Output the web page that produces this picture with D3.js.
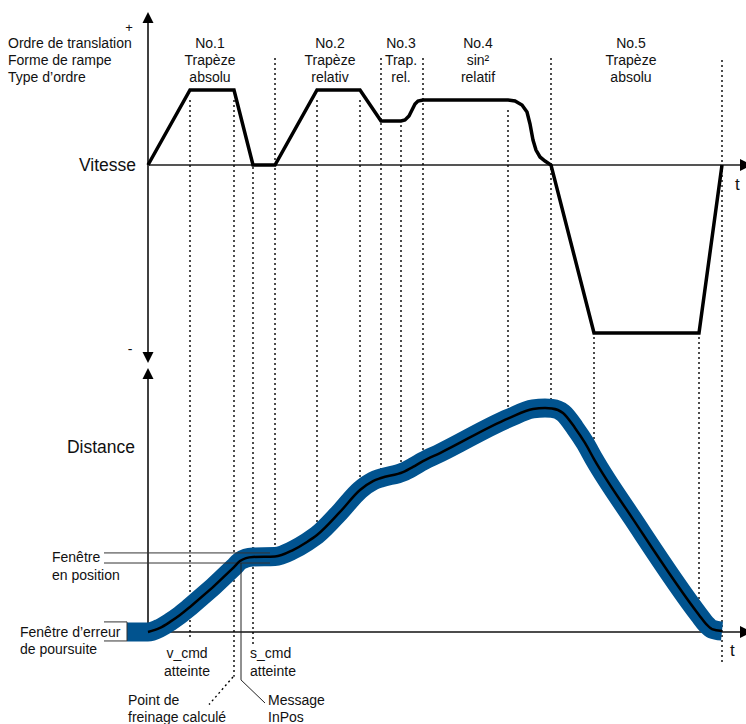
<!DOCTYPE html>
<html><head><meta charset="utf-8">
<script src="https://cdn.jsdelivr.net/npm/d3@7"></script>
<style>
body{margin:0;background:#fff}
text{font-family:"Liberation Sans",Arial,sans-serif;font-size:14px;fill:#111}
</style>
</head><body>
<svg id="chart" width="746" height="724"></svg>
<script>
// ---------- DATA ----------
const rowLabels = ["Ordre de translation", "Forme de rampe", "Type d’ordre"];
const orderNames = ["No.1", "No.2", "No.3", "No.4", "No.5"];
const rampForms = ["Trapèze", "Trapèze", "Trap.", "sin²", "Trapèze"];
const orderTypes = ["absolu", "relativ", "rel.", "relatif", "absolu"];
const orderCenterT = [12.4, 36.4, 50.6, 66, 96.6];

// velocity profile (time units, normalised velocity)
const velocityT = [0, 8.4, 17.2, 21, 25.4, 33.8, 42.4, 46.6, 50.6, 51.4, 52.2, 52.8, 53.4, 54.0, 55,
  72, 73.4, 74.8, 75.8, 76.4, 77.0, 77.6, 78.4, 79.4, 80.6, 89.2, 110.2, 114.8];
const velocityV = [0, 1, 1, 0, 0, 1, 1, 0.587, 0.587, 0.6, 0.653, 0.733, 0.813, 0.853, 0.867,
  0.867, 0.853, 0.8, 0.707, 0.547, 0.333, 0.2, 0.107, 0.053, 0, -2.24, -2.24, 0];

// distance profile (time units, normalised distance)
const distanceT = [0, 2.4, 4.4, 6.4, 8.4, 17.2, 18.4, 19.6, 21, 25.4, 29, 31.8, 33.8, 38.4, 42.4,
  45, 46.6, 51, 53, 55, 58.4, 72.2, 77, 79.4, 80.8, 83, 85.4, 87.4, 89.2, 97, 110.2, 111.6, 112.8, 114.8];
const distanceS = [0, 0.018, 0.045, 0.076, 0.112, 0.29, 0.317, 0.33, 0.335, 0.337, 0.366, 0.402, 0.433,
  0.536, 0.634, 0.674, 0.6875, 0.714, 0.737, 0.763, 0.799, 0.955, 0.996, 1.0, 0.998, 0.978, 0.911,
  0.844, 0.772, 0.504, 0.076, 0.036, 0.013, 0.004];

// event (dotted) lines: time, top (velocity units), bottom (distance units)
const eventT      = [8.4, 17.2, 21, 25.4, 33.8, 42.4, 46.6, 50.6, 55, 72, 80.6, 89.2, 110.2, 114.8];
const eventTopV   = [0.867, 0.867, -0.027, 1.427, 0.867, 0.867, 1.427, 0.533, 1.427, 0.733, 1.427, -2.293, -2.293, 1.4];
const eventBottomS= [-0.027, -0.2, -0.058, 0.379, 0.455, 0.652, 0.692, 0.719, 0.781, 0.978, 1.027, 0.808, 0.089, -0.147];

const followErrorWindow = [-0.040, 0.045];   // distance units
const inPosWindow = [0.308, 0.353];          // distance units
const windowLabelT = -8.8, windowStartT = -4.2, inPosEndT = 24.4;

// ---------- SCALES ----------
const x = d3.scaleLinear().domain([0, 120]).range([148, 748]);
const yV = d3.scaleLinear().domain([-1, 1]).range([240, 90]);
const yS = d3.scaleLinear().domain([0, 1]).range([632, 408]);
const vTop = 2.04, vBottom = -2.64, sTop = 1.179, tEnd = 119;

const svg = d3.select("#chart");
svg.append("rect").attr("width", 746).attr("height", 724).attr("fill", "#fff");

// ---------- AXES ----------
const gA = svg.append("g");
gA.append("line").attr("x1", x(0)).attr("x2", x(0)).attr("y1", yV(vTop) + 6).attr("y2", yV(vBottom) - 6)
  .attr("stroke", "#000").attr("stroke-width", 1.5);
gA.append("line").attr("x1", x(0)).attr("x2", x(0)).attr("y1", yS(sTop) + 6).attr("y2", yS(0))
  .attr("stroke", "#000").attr("stroke-width", 1.5);
gA.append("line").attr("x1", x(0)).attr("x2", x(tEnd)).attr("y1", yV(0)).attr("y2", yV(0))
  .attr("stroke", "#555").attr("stroke-width", 2);
gA.append("line").attr("x1", x(0)).attr("x2", x(tEnd)).attr("y1", yS(0)).attr("y2", yS(0))
  .attr("stroke", "#111").attr("stroke-width", 1.5);
function tri(pts) { gA.append("path").attr("d", "M" + pts.map(p => p.join(",")).join("L") + "Z").attr("fill", "#000"); }
const ax = x(0);
tri([[ax, yV(vTop)], [ax - 5.5, yV(vTop) + 11], [ax + 5.5, yV(vTop) + 11]]);
tri([[ax, yV(vBottom)], [ax - 5.5, yV(vBottom) - 11], [ax + 5.5, yV(vBottom) - 11]]);
tri([[ax, yS(sTop)], [ax - 5.5, yS(sTop) + 11], [ax + 5.5, yS(sTop) + 11]]);
tri([[x(tEnd) + 9, yV(0)], [x(tEnd) - 3, yV(0) - 6], [x(tEnd) - 3, yV(0) + 6]]);
tri([[x(tEnd) + 9, yS(0)], [x(tEnd) - 3, yS(0) - 6], [x(tEnd) - 3, yS(0) + 6]]);

// ---------- EVENT LINES ----------
const gE = svg.append("g");
eventT.forEach((t, i) => {
  gE.append("line").attr("x1", x(t)).attr("x2", x(t))
    .attr("y1", yV(eventTopV[i])).attr("y2", yS(eventBottomS[i]))
    .attr("stroke", "#000").attr("stroke-width", 1.4).attr("stroke-dasharray", "2,3");
});

// ---------- DISTANCE ----------
const distData = distanceT.map((t, i) => ({ t, s: distanceS[i] }));
const bandData = [{ t: windowStartT, s: 0 }].concat(distData);
const lineS = d3.line().x(d => x(d.t)).y(d => yS(d.s)).curve(d3.curveMonotoneX);
svg.append("path").attr("d", lineS(bandData)).attr("fill", "none")
  .attr("stroke", "#01538f").attr("stroke-width", 19).attr("stroke-linejoin", "round").attr("stroke-linecap", "butt");

// windows
const gW = svg.append("g").attr("stroke", "#333").attr("stroke-width", 1).attr("fill", "none");
followErrorWindow.forEach(s => {
  gW.append("line").attr("x1", x(windowLabelT)).attr("x2", x(windowStartT)).attr("y1", yS(s)).attr("y2", yS(s));
});
gW.append("line").attr("x1", x(windowStartT)).attr("x2", x(windowStartT))
  .attr("y1", yS(followErrorWindow[0])).attr("y2", yS(followErrorWindow[1]));
inPosWindow.forEach(s => {
  gW.append("line").attr("x1", x(windowLabelT)).attr("x2", x(inPosEndT)).attr("y1", yS(s)).attr("y2", yS(s));
});

svg.append("path").attr("d", lineS(distData)).attr("fill", "none")
  .attr("stroke", "#000").attr("stroke-width", 2.5);

// ---------- VELOCITY ----------
const velData = velocityT.map((t, i) => ({ t, v: velocityV[i] }));
const lineV = d3.line().x(d => x(d.t)).y(d => yV(d.v));
svg.append("path").attr("d", lineV(velData)).attr("fill", "none")
  .attr("stroke", "#000").attr("stroke-width", 3.5).attr("stroke-linejoin", "miter");

// ---------- ANNOTATION LEADERS ----------
svg.append("path")
  .attr("d", `M${x(18.6)},${yS(inPosWindow[0])}L${x(18.6)},${yS(-0.214)}L${x(23.4)},${yS(-0.317)}`)
  .attr("fill", "none").attr("stroke", "#222").attr("stroke-width", 1);
svg.append("line").attr("x1", x(17.0)).attr("y1", yS(-0.201)).attr("x2", x(12.2)).attr("y2", yS(-0.324))
  .attr("stroke", "#000").attr("stroke-width", 1.4).attr("stroke-dasharray", "2,3");

// ---------- TEXT ----------
const gT = svg.append("g");
const rowY = [48, 65, 82];
rowLabels.forEach((s, i) => gT.append("text").attr("x", 8).attr("y", rowY[i]).text(s));
gT.append("text").attr("x", 129).attr("y", 32).attr("text-anchor", "middle").style("font-size", "13px").text("+");
orderNames.forEach((n, i) => {
  [n, rampForms[i], orderTypes[i]].forEach((s, j) => {
    gT.append("text").attr("x", x(orderCenterT[i])).attr("y", rowY[j]).attr("text-anchor", "middle").text(s);
  });
});
gT.append("text").attr("x", 136).attr("y", yV(0) + 6).attr("text-anchor", "end").style("font-size", "17.5px").text("Vitesse");
gT.append("text").attr("x", 130).attr("y", yV(vBottom) - 9).attr("text-anchor", "middle").text("-");
gT.append("text").attr("x", 135).attr("y", 453).attr("text-anchor", "end").style("font-size", "17.5px").text("Distance");
gT.append("text").attr("x", 735).attr("y", yV(0) + 25).style("font-size", "17px").text("t");
gT.append("text").attr("x", 730).attr("y", yS(0) + 24).style("font-size", "17px").text("t");
gT.append("text").attr("x", 52).attr("y", 562).text("Fenêtre");
gT.append("text").attr("x", 52).attr("y", 580).text("en position");
gT.append("text").attr("x", 20).attr("y", 637).text("Fenêtre d’erreur");
gT.append("text").attr("x", 20).attr("y", 654).text("de poursuite");
gT.append("text").attr("x", 187).attr("y", 658).attr("text-anchor", "middle").text("v_cmd");
gT.append("text").attr("x", 187).attr("y", 676).attr("text-anchor", "middle").text("atteinte");
gT.append("text").attr("x", 250).attr("y", 658).text("s_cmd");
gT.append("text").attr("x", 250).attr("y", 676).text("atteinte");
gT.append("text").attr("x", 128).attr("y", 705).text("Point de");
gT.append("text").attr("x", 128).attr("y", 722).text("freinage calculé");
gT.append("text").attr("x", 268).attr("y", 705).text("Message");
gT.append("text").attr("x", 268).attr("y", 722).text("InPos");
</script>
</body></html>
